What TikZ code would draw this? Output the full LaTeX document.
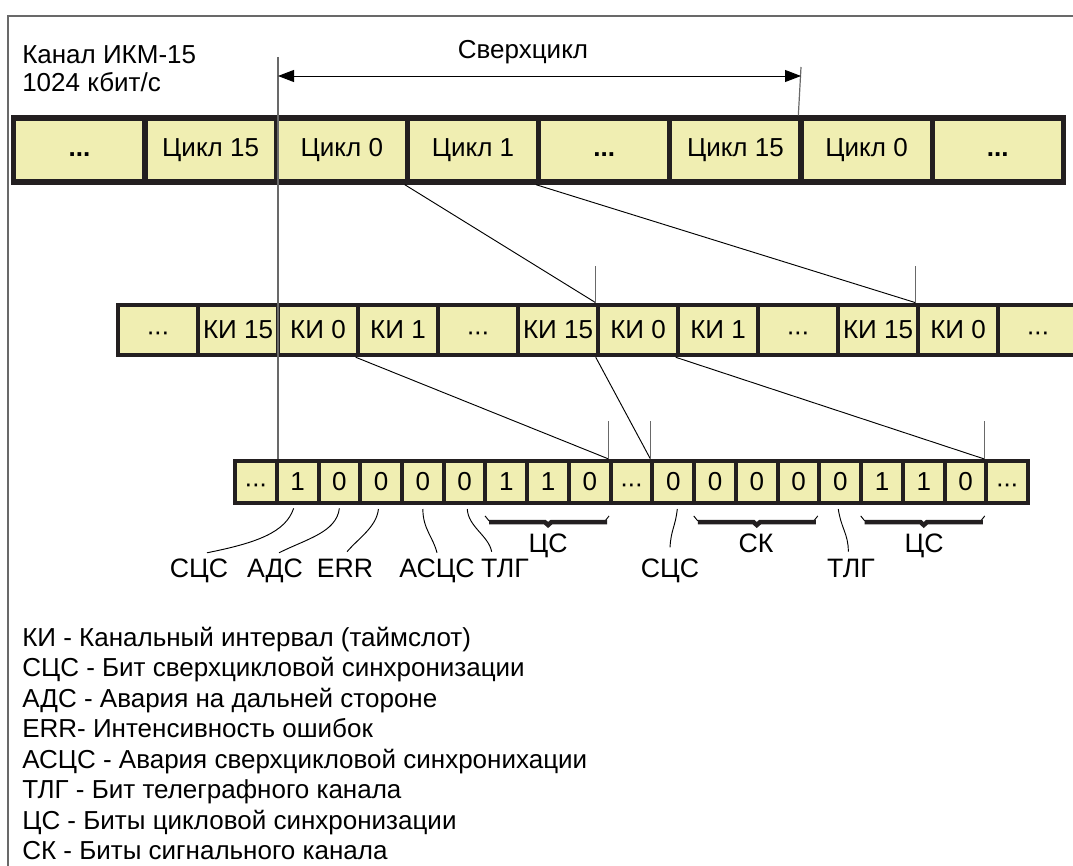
\documentclass[tikz,border=0pt]{standalone}
\usepackage{fontspec}
\setmainfont{Liberation Sans}
\usetikzlibrary{arrows.meta}

\definecolor{cellfill}{RGB}{240,238,178}
\definecolor{cellline}{RGB}{35,31,32}
\definecolor{guidegray}{RGB}{105,105,105}
\newcommand\cycdots{\vphantom{Цикл}\textbf{...}}
\newcommand\slotdots{\vphantom{0}\raisebox{-2pt}{·\kern-1pt·\kern-1pt·}}
% flat brace under a group of bits: first and last bit node
\newcommand\bitbrace[2]{%
  \path (#1.south west) -- (#2.south east) coordinate[pos=0.5] (bb-m);
  \draw[link] ([xshift=1.2pt,yshift=-8.2pt]#1.south west) -- ++(4,5);
  \draw[link] ([xshift=-2.7pt,yshift=-8.2pt]#2.south east) -- ++(-4,5);
  \draw[bracebar] ([xshift=4.2pt,yshift=-12.8pt]#1.south west)
    -- ([xshift=-2.5pt,yshift=-12.8pt]bb-m) -- ([yshift=-15pt]bb-m)
    -- ([xshift=2.5pt,yshift=-12.8pt]bb-m)
    -- ([xshift=-4.2pt,yshift=-12.8pt]#2.south east);}

\begin{document}
\begin{tikzpicture}[x=0.75pt, y=-0.75pt, font=\fontsize{19.5}{22}\selectfont,
    cycbox/.style={draw=cellline, fill=cellfill, line width=4pt,
      minimum width=98.4pt, minimum height=48pt, inner sep=0pt},
    slotbox/.style={draw=cellline, fill=cellfill, line width=3.4pt,
      minimum width=60pt, minimum height=37.5pt, inner sep=0pt},
    bitbox/.style={draw=cellline, fill=cellfill, line width=3pt,
      minimum width=31.3pt, minimum height=31.5pt, inner sep=0pt},
    guide/.style={guidegray, line width=0.9pt},
    link/.style={black, line width=0.7pt},
    lead/.style={black, line width=0.7pt},
    bracebar/.style={cellline, line width=3.4pt},
    tag/.style={anchor=base, inner sep=1pt, font=\fontsize{20}{24}\selectfont}]
    \useasboundingbox (0,0) rectangle (1073,866);
    \draw[guidegray, line width=1pt] (8,866) -- (8,16) -- (1073,16);

    % upper text
    \node[anchor=base west, inner sep=0pt] at (22,64) {Канал ИКМ-15};
    \node[anchor=base west, inner sep=0pt] at (22,92) {1024 кбит/с};
    \node[anchor=base, inner sep=0pt] (sup) at (523,59) {Сверхцикл};

    % rows
    \foreach \lab [count=\i from 0] in {\cycdots,Цикл 15,Цикл 0,Цикл 1,\cycdots,Цикл 15,Цикл 0,\cycdots}
      \node[cycbox] (t\i) at ({79.4+131.2*\i},150) {\lab};
    \foreach \lab [count=\i from 0] in {\slotdots,КИ 15,КИ 0,КИ 1,\slotdots,КИ 15,КИ 0,КИ 1,\slotdots,КИ 15,КИ 0,\slotdots}
      \node[slotbox] (m\i) at ({158+80*\i},330) {\lab};
    \foreach \lab [count=\i from 0] in {\slotdots,1,0,0,0,0,1,1,0,\slotdots,0,0,0,0,0,1,1,0,\slotdots}
      \node[bitbox] (b\i) at ({255.9+41.74*\i},482) {\lab};

    % superframe
    \coordinate (sup-l) at (278,57);
    \coordinate (sup-r) at (801,67);
    \draw[guide] (sup-l) -- (sup-l |- b1.north);
    \draw[guide] (sup-r) -- (t6.north west);
    \draw[link, {Triangle[length=12pt,width=9pt]}-{Triangle[length=12pt,width=9pt]}]
      (sup-l |- 0,76) -- (sup-r |- 0,76);

    % zoom lines
    \draw[link] (t3.south west) -- (m6.north west);
    \draw[guide] (m6.north west) -- ++(0,-37);
    \draw[link] (t4.south west) -- (m10.north west);
    \draw[guide] (m10.north west) -- ++(0,-37);
    \draw[link] (m3.south west) -- (b9.north west);
    \draw[guide] (b9.north west) -- ++(0,-38);
    \draw[link] (m6.south west) -- (b10.north west);
    \draw[guide] (b10.north west) -- ++(0,-38);
    \draw[link] (m7.south west) -- (b18.north west);
    \draw[guide] (b18.north west) -- ++(0,-38);

    % bit names
    \node[tag] (scs-a) at (199,577) {СЦС};
    \node[tag] (ads) at (275,577) {АДС};
    \node[tag] (err) at (345,577) {ERR};
    \node[tag] (ascs) at (437,577) {АСЦС};
    \node[tag] (tlg-a) at (505,577) {ТЛГ};
    \node[tag] (cs-a) at (548,552) {ЦС};
    \node[tag] (scs-b) at (670,577) {СЦС};
    \node[tag] (sk) at (756,552) {СК};
    \node[tag] (tlg-b) at (851,577) {ТЛГ};
    \node[tag] (cs-b) at (924,552) {ЦС};

    \draw[lead] ([xshift=-3pt,yshift=-2.5pt]b1.south) .. controls +(-8,24) and +(50,-10) .. ([xshift=6pt,yshift=3pt]scs-a.north);
    \draw[lead] ([yshift=-2.5pt]b2.south) .. controls +(-3,24) and +(28,-14) .. ([xshift=3pt,yshift=3pt]ads.north);
    \draw[lead] ([xshift=-2pt,yshift=-3pt]b3.south) .. controls +(-2,18) and +(12,-14) .. ([xshift=1.5pt,yshift=4pt]err.north);
    \draw[lead] ([yshift=-3pt]b4.south) .. controls +(0,20) and +(-4,-16) .. ([yshift=3pt]ascs.north);
    \draw[lead] ([xshift=2pt,yshift=-3pt]b5.south) .. controls +(1,18) and +(-3,-16) .. ([xshift=-10pt,yshift=4pt]tlg-a.north);
    \draw[lead] ([xshift=3pt,yshift=-3pt]b10.south) .. controls +(-2,18) and +(1,-18) .. ([yshift=7pt]scs-b.north);
    \draw[lead] ([xshift=-1.5pt,yshift=-3pt]b14.south) .. controls +(3,20) and +(0,-18) .. ([xshift=-2pt,yshift=4pt]tlg-b.north);

    \bitbrace{b6}{b8}
    \bitbrace{b11}{b13}
    \bitbrace{b15}{b17}

    % legend
    \foreach \txt [count=\k from 0] in {КИ - Канальный интервал (таймслот),
        СЦС - Бит сверхцикловой синхронизации,
        АДС - Авария на дальней стороне,
        ERR- Интенсивность ошибок,
        АСЦС - Авария сверхцикловой синхронихации,
        ТЛГ - Бит телеграфного канала,
        ЦС - Биты цикловой синхронизации,
        СК - Биты сигнального канала}
      \node[anchor=base west, inner sep=0pt] (leg\k) at (22,{646+30.5*\k}) {\txt};
\end{tikzpicture}
\end{document}
